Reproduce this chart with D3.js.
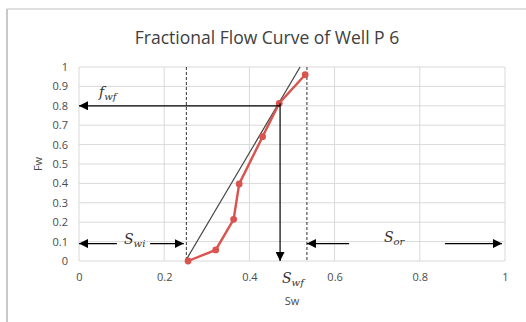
<!DOCTYPE html>
<html>
<head>
<meta charset="utf-8">
<script src="https://cdn.jsdelivr.net/npm/d3@7"></script>
<style>
  body { margin: 0; background: #fff; }
  svg { display: block; font-family: "Open Sans", sans-serif; }
</style>
</head>
<body>
<svg id="chart" width="526" height="322"></svg>
<script>
// data
const sw = [0.256, 0.321, 0.363, 0.376, 0.431, 0.470, 0.531];
const fw = [0.0, 0.057, 0.215, 0.397, 0.641, 0.813, 0.960];
const xTicks = [0, 0.2, 0.4, 0.6, 0.8, 1];
const yTicks = [0, 0.1, 0.2, 0.3, 0.4, 0.5, 0.6, 0.7, 0.8, 0.9, 1];
const tangent = [[0.25, 0], [0.519, 1.0]];
const swi = 0.252, sor = 0.535;
const swf = 0.472, fwf = 0.80;

const svg = d3.select("#chart");
const x = d3.scaleLinear().domain([0, 1]).range([79, 505]);
const y = d3.scaleLinear().domain([0, 1]).range([261, 67]);

// frame
svg.append("line").attr("x1", 7).attr("x2", 526).attr("y1", 9).attr("y2", 9)
  .attr("stroke", "#d4d4d4").attr("stroke-width", 1.5);
svg.append("line").attr("x1", 7).attr("x2", 7).attr("y1", 9).attr("y2", 322)
  .attr("stroke", "#c8c8c8").attr("stroke-width", 2);

svg.append("defs").append("marker")
  .attr("id", "arr").attr("viewBox", "0 0 10 10")
  .attr("refX", 10).attr("refY", 5)
  .attr("markerWidth", 9).attr("markerHeight", 9)
  .attr("markerUnits", "userSpaceOnUse")
  .attr("orient", "auto")
  .append("path").attr("d", "M0,0L10,5L0,10z").attr("fill", "#000");

// grid
svg.append("g").selectAll("line").data(yTicks).join("line")
  .attr("x1", x(0)).attr("x2", x(1))
  .attr("y1", d => y(d)).attr("y2", d => y(d))
  .attr("stroke", "#d9d9d9").attr("stroke-width", 1);
svg.append("g").selectAll("line").data(xTicks).join("line")
  .attr("x1", d => x(d)).attr("x2", d => x(d))
  .attr("y1", y(0)).attr("y2", y(1))
  .attr("stroke", "#d9d9d9").attr("stroke-width", 1);

// axes labels
const yAxis = svg.append("g").attr("transform", `translate(${x(0)},0)`)
  .call(d3.axisLeft(y).tickValues(yTicks).tickSize(0).tickPadding(11).tickFormat(d3.format("~g")));
const xAxis = svg.append("g").attr("transform", `translate(0,${y(0)})`)
  .call(d3.axisBottom(x).tickValues(xTicks).tickSize(0).tickPadding(12).tickFormat(d3.format("~g")));
[xAxis, yAxis].forEach(a => {
  a.select(".domain").remove();
  a.selectAll("text").attr("fill", "#4a4a4a").attr("font-size", 11)
    .attr("font-family", "Open Sans, sans-serif");
});

svg.append("text").attr("x", 267).attr("y", 44).attr("text-anchor", "middle")
  .attr("font-size", 17.5).attr("fill", "#404040").text("Fractional Flow Curve of Well P 6");
svg.append("text").attr("x", 292).attr("y", 305).attr("text-anchor", "middle")
  .attr("font-size", 11).attr("fill", "#4a4a4a").text("Sw");
svg.append("text").attr("transform", "translate(42,164) rotate(-90)").attr("text-anchor", "middle")
  .attr("font-size", 11).attr("fill", "#4a4a4a").text("Fw");

// dashed limits
svg.append("g").selectAll("line").data([swi, sor]).join("line")
  .attr("x1", d => x(d)).attr("x2", d => x(d))
  .attr("y1", y(1)).attr("y2", y(0))
  .attr("stroke", "#333").attr("stroke-width", 1).attr("stroke-dasharray", "3,2");

// tangent
svg.append("path").datum(tangent)
  .attr("d", d3.line().x(d => x(d[0])).y(d => y(d[1])))
  .attr("fill", "none").attr("stroke", "#444").attr("stroke-width", 1.2);

// red curve
const pts = sw.map((v, i) => [v, fw[i]]);
svg.append("path").datum(pts)
  .attr("d", d3.line().x(d => x(d[0])).y(d => y(d[1])))
  .attr("fill", "none").attr("stroke", "#d9534f").attr("stroke-width", 2.4);
svg.append("g").selectAll("circle").data(pts).join("circle")
  .attr("cx", d => x(d[0])).attr("cy", d => y(d[1])).attr("r", 3.4)
  .attr("fill", "#d9534f");

// fwf / swf arrows
const arrows = [
  [[swf, fwf], [0, fwf]],
  [[swf, fwf + 0.013], [swf, 0]],
  [[0.089, 0.09], [0.0, 0.09]],
  [[0.167, 0.09], [0.246, 0.09]],
  [[0.634, 0.09], [sor, 0.09]],
  [[0.859, 0.09], [0.993, 0.09]]
];
svg.append("g").selectAll("line").data(arrows).join("line")
  .attr("x1", d => x(d[0][0])).attr("y1", d => y(d[0][1]))
  .attr("x2", d => x(d[1][0])).attr("y2", d => y(d[1][1]))
  .attr("stroke", "#000").attr("stroke-width", 1.2)
  .attr("marker-end", "url(#arr)");

// symbol labels
function sym(px, py, main, sub) {
  const t = svg.append("text").attr("x", px).attr("y", py)
    .attr("font-family", "DejaVu Serif, serif").attr("font-style", "italic")
    .attr("fill", "#333");
  t.append("tspan").attr("font-size", 14).text(main);
  t.append("tspan").attr("font-size", 10).attr("dy", 3).text(sub);
}
sym(99, 97, "f", "wf");
sym(124, 244, "S", "wi");
sym(384, 242, "S", "or");
sym(282, 283, "S", "wf");
</script>
</body>
</html>
